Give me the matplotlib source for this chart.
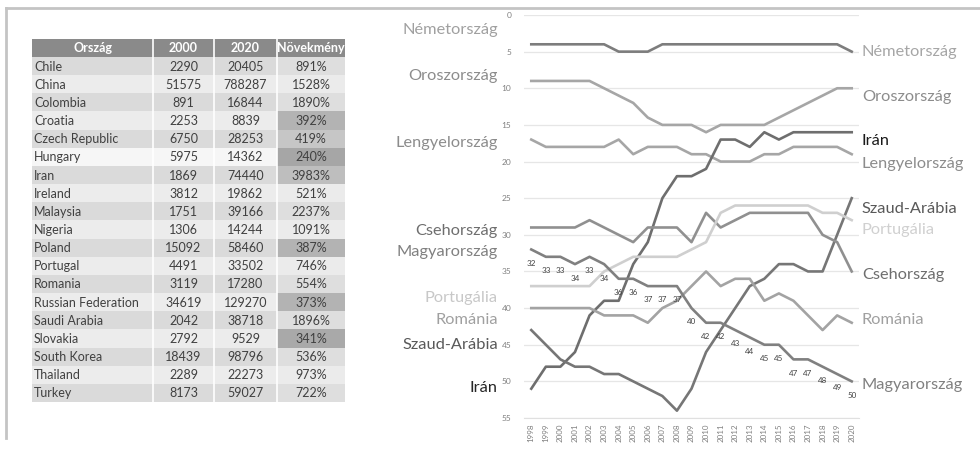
import matplotlib
matplotlib.use("Agg")
import matplotlib.pyplot as plt
from matplotlib.patches import Rectangle
from matplotlib.lines import Line2D

plt.rcParams['font.family'] = ['Lato', 'DejaVu Sans']

# ---------------- data ----------------
table_header = ["Ország", "2000", "2020", "Növekmény"]
countries = ["Chile", "China", "Colombia", "Croatia", "Czech Republic", "Hungary", "Iran",
             "Ireland", "Malaysia", "Nigeria", "Poland", "Portugal", "Romania",
             "Russian Federation", "Saudi Arabia", "Slovakia", "South Korea", "Thailand", "Turkey"]
val_2000 = [2290, 51575, 891, 2253, 6750, 5975, 1869, 3812, 1751, 1306, 15092, 4491, 3119,
            34619, 2042, 2792, 18439, 2289, 8173]
val_2020 = [20405, 788287, 16844, 8839, 28253, 14362, 74440, 19862, 39166, 14244, 58460, 33502,
            17280, 129270, 38718, 9529, 98796, 22273, 59027]
growth = ["891%", "1528%", "1890%", "392%", "419%", "240%", "3983%", "521%", "2237%", "1091%",
          "387%", "746%", "554%", "373%", "1896%", "341%", "536%", "973%", "722%"]

years = list(range(1998, 2021))
rank_germany = [4, 4, 4, 4, 4, 4, 5, 5, 5, 4, 4, 4, 4, 4, 4, 4, 4, 4, 4, 4, 4, 4, 5]
rank_russia = [9, 9, 9, 9, 9, 10, 11, 12, 14, 15, 15, 15, 16, 15, 15, 15, 15, 14, 13, 12, 11, 10, 10]
rank_poland = [17, 18, 18, 18, 18, 18, 17, 19, 18, 18, 18, 19, 19, 20, 20, 20, 19, 19, 18, 18, 18, 18, 19]
rank_iran = [51, 48, 48, 46, 41, 39, 39, 34, 31, 25, 22, 22, 21, 17, 17, 18, 16, 17, 16, 16, 16, 16, 16]
rank_saudi = [43, 45, 47, 48, 48, 49, 49, 50, 51, 52, 54, 51, 46, 43, 40, 37, 36, 34, 34, 35, 35, 30, 25]
rank_czech = [29, 29, 29, 29, 28, 29, 30, 31, 29, 29, 29, 31, 27, 29, 28, 27, 27, 27, 27, 27, 30, 31, 35]
rank_portugal = [37, 37, 37, 37, 37, 35, 34, 33, 33, 33, 33, 32, 31, 27, 26, 26, 26, 26, 26, 26, 27, 27, 28]
rank_romania = [40, 40, 40, 40, 40, 41, 41, 41, 42, 40, 39, 37, 35, 37, 36, 36, 39, 38, 39, 41, 43, 41, 42]
rank_hungary = [32, 33, 33, 34, 33, 34, 36, 36, 37, 37, 37, 40, 42, 42, 43, 44, 45, 45, 47, 47, 48, 49, 50]

series_names = ["Németország", "Oroszország", "Lengyelország", "Irán", "Szaud-Arábia",
                "Csehország", "Portugália", "Románia", "Magyarország"]
series_ranks = [rank_germany, rank_russia, rank_poland, rank_iran, rank_saudi,
                rank_czech, rank_portugal, rank_romania, rank_hungary]

# ---------------- styles ----------------
line_colors = ["#7d7d7d", "#a6a6a6", "#a6a6a6", "#6e6e6e", "#767676",
               "#909090", "#cfcfcf", "#a3a3a3", "#808080"]
left_label_colors = ["#a0a0a0", "#8c8c8c", "#8c8c8c", "#262626", "#595959",
                     "#6e6e6e", "#c8c8c8", "#a0a0a0", "#808080"]
right_label_colors = ["#a6a6a6", "#8c8c8c", "#8c8c8c", "#1a1a1a", "#595959",
                      "#6e6e6e", "#d0d0d0", "#a0a0a0", "#808080"]
# label positions (rank units), same order as series_names
left_label_y = [2.0, 8.3, 17.5, 50.9, 45.0, 29.5, 38.6, 41.6, 32.3]
right_label_y = [5.0, 11.2, 20.3, 17.2, 26.5, 35.5, 29.3, 41.6, 50.5]

W, H = 980, 465
fig = plt.figure(figsize=(W / 100, H / 100), dpi=100)
fig.patch.set_facecolor("white")

# frame lines (top and left)
fig.add_artist(Line2D([6 / W, 1.0], [1 - 8 / H, 1 - 8 / H], color="#c4c4c4", lw=2,
                      transform=fig.transFigure))
fig.add_artist(Line2D([6 / W, 6 / W], [1 - 8 / H, 1 - 438 / H], color="#c4c4c4", lw=2,
                      transform=fig.transFigure))

# ---------------- table ----------------
tx0, tx1, ty0, ty1 = 32, 345, 39, 402
tab = fig.add_axes([tx0 / W, 1 - ty1 / H, (tx1 - tx0) / W, (ty1 - ty0) / H])
tab.set_xlim(tx0, tx1)
tab.set_ylim(ty1, ty0)
tab.axis("off")
col_edges = [32, 153, 214, 277, 345]
header_h = 18
row_h = (ty1 - ty0 - header_h) / len(countries)

highlight = {"Croatia": "#b3b3b3", "Czech Republic": "#c6c6c6", "Hungary": "#a6a6a6",
             "Iran": "#bebebe", "Poland": "#b3b3b3", "Russian Federation": "#b3b3b3",
             "Slovakia": "#a9a9a9"}

for j, h in enumerate(table_header):
    tab.add_patch(Rectangle((col_edges[j], ty0), col_edges[j + 1] - col_edges[j], header_h,
                            facecolor="#8a8a8a", edgecolor="none"))
    tab.text((col_edges[j] + col_edges[j + 1]) / 2, ty0 + header_h / 2 + 0.5, h,
             ha="center", va="center", color="white", fontsize=9, fontweight="bold")

for i, c in enumerate(countries):
    y = ty0 + header_h + i * row_h
    base = "#dadada" if i % 2 == 0 else "#ececec"
    if c == "Hungary":
        base = "#f6f6f6"
    cells = [c, str(val_2000[i]), str(val_2020[i]), growth[i]]
    for j, txt in enumerate(cells):
        fc = base
        if j == 3:
            fc = highlight.get(c, "#dedede" if i % 2 == 0 else "#ebebeb")
        tab.add_patch(Rectangle((col_edges[j], y), col_edges[j + 1] - col_edges[j], row_h,
                                facecolor=fc, edgecolor="none"))
        if j == 0:
            tab.text(col_edges[0] + 2, y + row_h / 2 + 0.5, txt, ha="left", va="center",
                     color="#404040", fontsize=9)
        else:
            tab.text((col_edges[j] + col_edges[j + 1]) / 2, y + row_h / 2 + 0.5, txt,
                     ha="center", va="center", color="#404040", fontsize=9)
for xe in col_edges[1:-1]:
    tab.plot([xe, xe], [ty0, ty1], color="white", lw=1.2)

# ---------------- bump chart ----------------
ax_l, ax_r, ax_t, ax_b = 524, 859, 15, 418
ax = fig.add_axes([ax_l / W, 1 - ax_b / H, (ax_r - ax_l) / W, (ax_b - ax_t) / H])
xs = list(range(len(years)))
for name, ranks, col in zip(series_names, series_ranks, line_colors):
    ax.plot(xs, ranks, color=col, lw=1.9, solid_joinstyle="round", zorder=3)

# data labels for Hungary
for x, v in zip(xs, rank_hungary):
    ax.annotate(str(v), (x, v), xytext=(0, -10), textcoords="offset points",
                ha="center", va="center", fontsize=5.8, color="#404040", zorder=4)

ax.set_xlim(-0.5, len(years) - 0.5)
ax.set_ylim(55, 0)
ax.set_yticks(range(0, 56, 5))
ax.set_xticks(xs)
ax.set_xticklabels([str(y) for y in years], rotation=90, fontsize=5.8, color="#808080")
ax.tick_params(axis="y", labelsize=6, labelcolor="#808080", length=0, pad=9)
ax.tick_params(axis="x", length=0, pad=4)
ax.grid(axis="y", color="#e6e6e6", lw=0.9, zorder=0)
for s in ax.spines.values():
    s.set_visible(False)
ax.spines["bottom"].set_visible(True)
ax.spines["bottom"].set_color("#e0e0e0")
ax.set_facecolor("none")

for name, ly, ry, lc, rc in zip(series_names, left_label_y, right_label_y,
                                left_label_colors, right_label_colors):
    ax.text(-2.3, ly, name, ha="right", va="center", fontsize=11.8, color=lc, clip_on=False)
    ax.text(len(years) - 0.3, ry, name, ha="left", va="center", fontsize=11.8, color=rc,
            clip_on=False)

fig.savefig("out.png", dpi=100, facecolor="white")
